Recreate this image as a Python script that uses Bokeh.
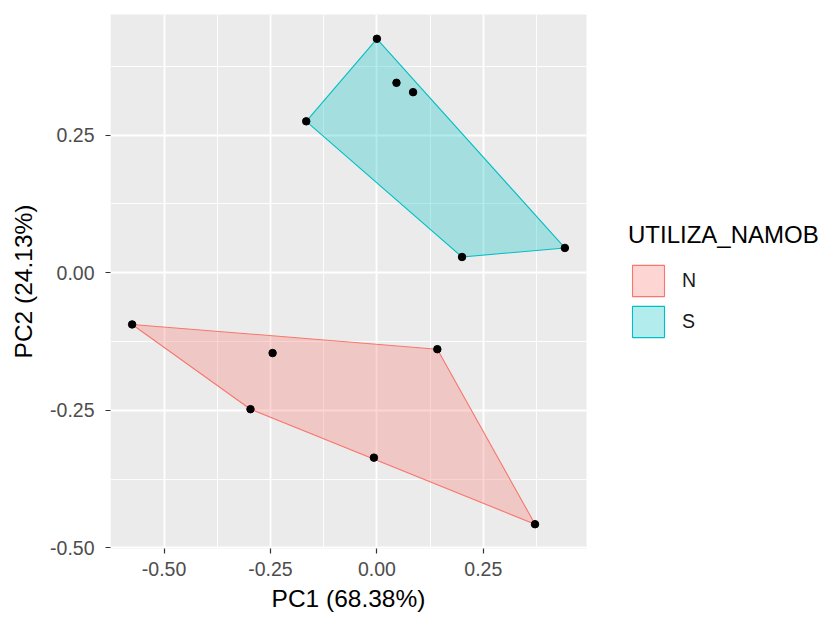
from bokeh.plotting import figure
from bokeh.models import Range1d, FixedTicker, Legend, LegendItem
from bokeh.embed import file_html
from bokeh.resources import INLINE

# ---- data ----
groups = ["N", "S"]
n_pc1 = [-0.575, -0.245, -0.297, 0.142, -0.007, 0.3715]
n_pc2 = [-0.094, -0.146, -0.248, -0.139, -0.336, -0.457]
s_pc1 = [0.000, 0.046, 0.085, -0.166, 0.200, 0.4416]
s_pc2 = [0.425, 0.345, 0.328, 0.275, 0.0285, 0.045]
colors = ["#F8766D", "#00BFC4"]
major_ticks = [-0.5, -0.25, 0.0, 0.25]
x_minor = [-0.625, -0.375, -0.125, 0.125, 0.375]
y_minor = [-0.375, -0.125, 0.125, 0.375]
x_title = "PC1 (68.38%)"
y_title = "PC2 (24.13%)"
legend_title = "UTILIZA_NAMOB"


def hull(xs, ys):
    pts = sorted(zip(xs, ys))

    def cross(o, a, b):
        return (a[0] - o[0]) * (b[1] - o[1]) - (a[1] - o[1]) * (b[0] - o[0])

    lower, upper = [], []
    for p in pts:
        while len(lower) >= 2 and cross(lower[-2], lower[-1], p) <= 0:
            lower.pop()
        lower.append(p)
    for p in reversed(pts):
        while len(upper) >= 2 and cross(upper[-2], upper[-1], p) <= 0:
            upper.pop()
        upper.append(p)
    h = lower[:-1] + upper[:-1]
    return [q[0] for q in h], [q[1] for q in h]


def expand(lo, hi, f=0.05):
    d = (hi - lo) * f
    return lo - d, hi + d


allx = n_pc1 + s_pc1
ally = n_pc2 + s_pc2
x0, x1 = expand(min(allx), max(allx))
y0, y1 = expand(min(ally), max(ally))

p = figure(
    output_backend="svg", toolbar_location=None,
    frame_width=476, frame_height=534,
    min_border_left=110, min_border_top=14, min_border_bottom=71, min_border_right=243,
    x_range=Range1d(x0, x1), y_range=Range1d(y0, y1),
    background_fill_color="#EBEBEB", border_fill_color="white",
    outline_line_color=None,
)

for ax, lab in ((p.xaxis[0], x_title), (p.yaxis[0], y_title)):
    ax.axis_label = lab
    ax.axis_label_text_font = "Liberation Sans"
    ax.axis_label_text_font_style = "normal"
    ax.axis_label_text_font_size = "24.5px"
    ax.axis_label_text_color = "black"
    ax.major_label_text_font = "Liberation Sans"
    ax.major_label_text_font_size = "19.5px"
    ax.major_label_text_color = "#4D4D4D"
    ax.axis_line_color = None
    ax.major_tick_line_color = "#333333"
    ax.major_tick_line_width = 1.2
    ax.major_tick_out = 5
    ax.major_tick_in = 0
    ax.minor_tick_out = 0
    ax.minor_tick_in = 0

p.xaxis[0].major_label_standoff = 8
p.yaxis[0].major_label_standoff = 11
p.xaxis[0].ticker = FixedTicker(ticks=major_ticks, minor_ticks=x_minor)
p.yaxis[0].ticker = FixedTicker(ticks=major_ticks, minor_ticks=y_minor)
p.xaxis[0].major_label_overrides = {t: f"{t:.2f}" for t in major_ticks}
p.yaxis[0].major_label_overrides = {t: f"{t:.2f}" for t in major_ticks}
p.xaxis[0].axis_label_standoff = 6
p.yaxis[0].axis_label_standoff = 10

for g in (p.xgrid[0], p.ygrid[0]):
    g.grid_line_color = "white"
    g.grid_line_width = 1.8
    g.minor_grid_line_color = "white"
    g.minor_grid_line_width = 0.9

items = []
for name, xs, ys, col in zip(groups, [n_pc1, s_pc1], [n_pc2, s_pc2], colors):
    hx, hy = hull(xs, ys)
    r = p.patch(hx, hy, fill_color=col, fill_alpha=0.3, line_color=col, line_width=1.1)
    items.append(LegendItem(label=name, renderers=[r]))

for xs, ys in ((n_pc1, n_pc2), (s_pc1, s_pc2)):
    p.scatter(xs, ys, size=7.5, fill_color="black", line_color="black")

legend = Legend(
    items=items, title=legend_title, location="center_left",
    title_text_font="Liberation Sans", title_text_font_size="24px",
    title_text_font_style="normal", title_text_color="black",
    label_text_font="Liberation Sans", label_text_font_size="19.5px",
    label_text_color="#1A1A1A",
    glyph_width=40, glyph_height=39, label_height=39, spacing=2,
    label_standoff=14, title_standoff=12,
    border_line_color=None, background_fill_alpha=0,
    padding=0, margin=42,
)
p.add_layout(legend, "right")

open("out.html", "w").write(file_html(p, INLINE))
